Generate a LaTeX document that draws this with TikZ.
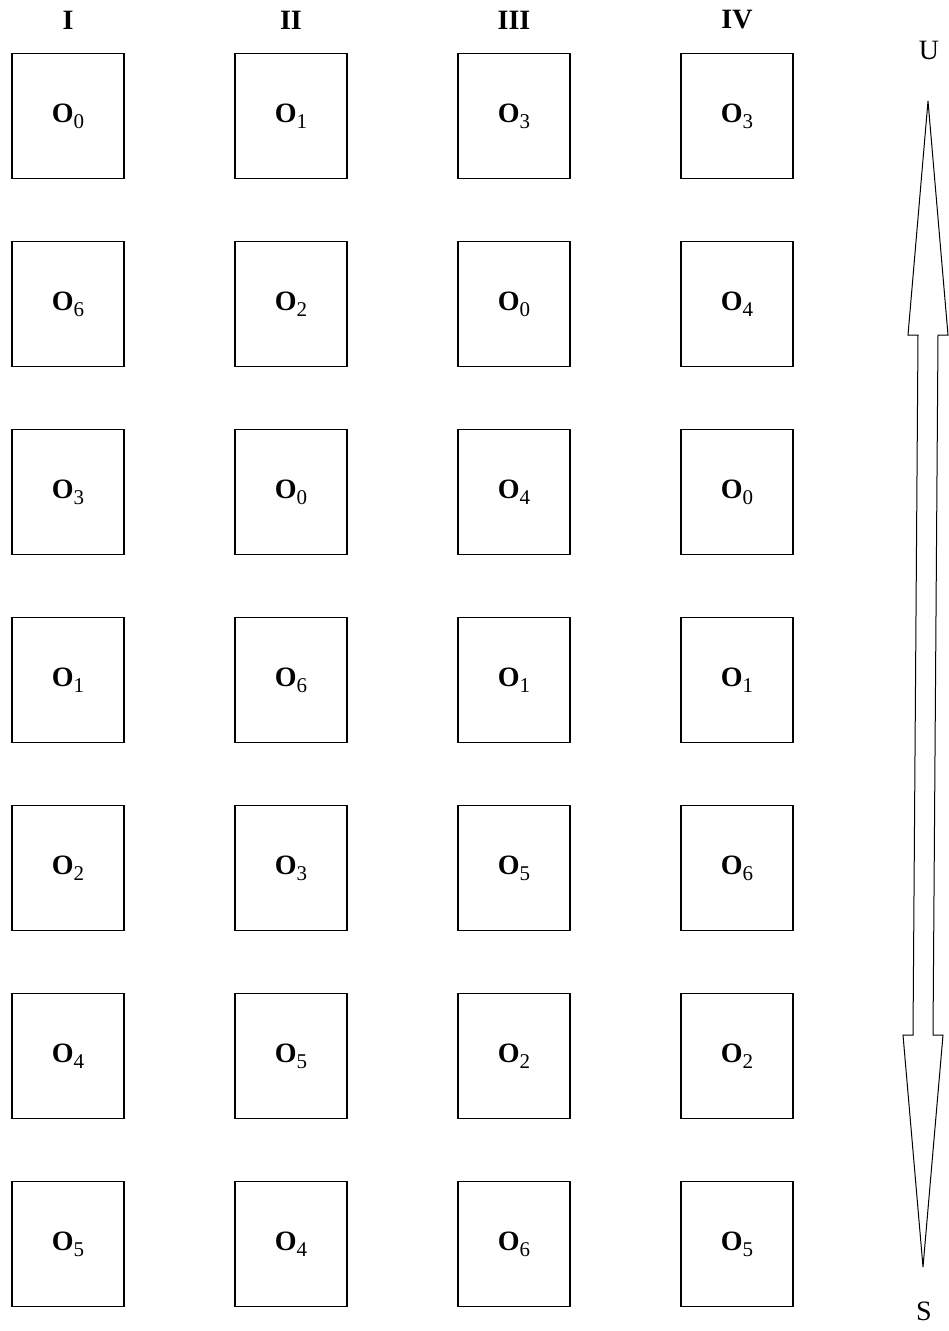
\documentclass[tikz,border=0pt]{standalone}
\usepackage{fontspec}
\setmainfont{Liberation Serif}
\usetikzlibrary{positioning,calc}

\newcommand{\osub}[1]{\textbf{O}\raisebox{-0.22em}{\fontsize{21}{21}\selectfont #1}}

\tikzset{
  obox/.style={draw, line width=1.3pt, minimum width=112pt, minimum height=125pt, inner sep=0pt, font=\fontsize{28}{28}\selectfont},
  colhead/.style={font=\fontsize{28}{28}\selectfont\bfseries},
  endlab/.style={font=\fontsize{28}{28}\selectfont}
}

\begin{document}
\begin{tikzpicture}[x=1pt, y=-1pt]
  \useasboundingbox (0,0) rectangle (949,1331);

  % columns of boxes
  \foreach \colname/\xpos/\items in {I/68/{0,6,3,1,2,4,5}, II/291/{1,2,0,6,3,5,4}, III/514/{3,0,4,1,5,2,6}, IV/737/{3,4,0,1,6,2,5}}{
    \node[colhead] (h\colname) at (\xpos,20) {\colname};
    \foreach \n [count=\r] in \items {
      \node[obox] (b\colname\r) at (\xpos,{116+188*(\r-1)}) {\osub{\n}};
    }
  }

  % scale arrow
  \node[endlab] (U) at (929,50) {U};
  \node[endlab] (S) at (924,1311) {S};
  \coordinate (tipU) at (928,101);
  \coordinate (tipS) at (923,1267);
  \draw[line width=1pt, line join=miter]
    (tipU) -- ($(tipU)+(20,234)$) -- ($(tipU)+(10,234)$)
    -- ($(tipS)+(10,-232)$) -- ($(tipS)+(20,-232)$) -- (tipS)
    -- ($(tipS)+(-20,-232)$) -- ($(tipS)+(-10,-232)$)
    -- ($(tipU)+(-10,234)$) -- ($(tipU)+(-20,234)$) -- cycle;
\end{tikzpicture}
\end{document}
